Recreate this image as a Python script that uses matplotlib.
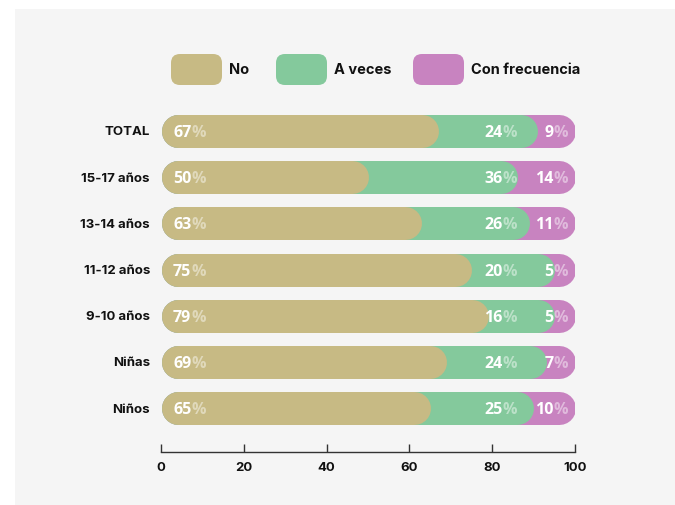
import matplotlib.pyplot as plt
from matplotlib.patches import Rectangle, FancyBboxPatch

# data
groups = ['TOTAL', '15-17 años', '13-14 años', '11-12 años', '9-10 años', 'Niñas', 'Niños']
no = [67, 50, 63, 75, 79, 69, 65]
a_veces = [24, 36, 26, 20, 16, 24, 25]
con_frec = [9, 14, 11, 5, 5, 7, 10]
series_names = ['No', 'A veces', 'Con frecuencia']
xticks = [0, 20, 40, 60, 80, 100]

c_no = '#c7ba84'
c_av = '#84c99c'
c_cf = '#c883c0'
colors = [c_no, c_av, c_cf]

W, H = 675, 505
fig = plt.figure(figsize=(W / 100, H / 100), dpi=100, facecolor='white')

# background + legend on a pixel axes
bg = fig.add_axes([0, 0, 1, 1], zorder=0)
bg.set_xlim(0, W)
bg.set_ylim(H, 0)
bg.axis('off')
bg.add_patch(Rectangle((15, 9), W - 15, H - 9, color='#f5f5f5', lw=0))

leg_x = [171, 276, 413]
for x, name, col in zip(leg_x, series_names, colors):
    bg.add_patch(FancyBboxPatch((x, 54), 51, 31, boxstyle='round,pad=0,rounding_size=9',
                                fc=col, ec='none'))
    bg.text(x + 58, 70.5, name, ha='left', va='center', fontsize=10.5,
            fontweight='bold', family='Inter', color='#111111')

# main chart axes
ax = fig.add_axes([161 / W, (H - 452) / H, 414 / W, 352 / H], zorder=1)
ax.patch.set_alpha(0)
ax.set_xlim(0, 100)
ax.set_ylim(6.95, -0.67)

px_per_unit = 414 / 100
bar_px = 33
r = bar_px / 2 / px_per_unit
lw = bar_px * 72 / 100

rows = list(range(len(groups)))
for i in rows:
    ends = [100, no[i] + a_veces[i], no[i]]
    for end, col in zip(ends, [c_cf, c_av, c_no]):
        ax.plot([r, end - r], [i, i], color=col, lw=lw, solid_capstyle='round', zorder=2)


def pct_label(x, y, val, ha):
    fs = 11.5
    y = y + 0.045  # nudge down so digits sit centred in the bar
    kw = dict(fontsize=fs, fontweight='bold', family='Open Sans', va='center', zorder=5)
    if ha == 'left':
        t = ax.text(x, y, str(val), ha='left', color='white', **kw)
        ax.annotate('%', xy=(1, 0.5), xycoords=t, ha='left', color=(1, 1, 1, 0.45), **kw)
    else:
        t = ax.text(x, y, '%', ha='right', color=(1, 1, 1, 0.45), **kw)
        ax.annotate(str(val), xy=(0, 0.5), xycoords=t, ha='right', color='white', **kw)


for i in rows:
    pct_label(2.9, i, no[i], 'left')
    pct_label(86.0, i, a_veces[i], 'right')
    pct_label(98.3, i, con_frec[i], 'right')

ax.set_yticks(rows)
ax.set_yticklabels(groups, fontsize=9.5, fontweight='bold', family='Inter', color='#111111')
ax.tick_params(axis='y', length=0, pad=8)

ax.set_xticks(xticks)
ax.set_xticklabels([str(t) for t in xticks], fontsize=9.5, fontweight='bold',
                   family='Inter', color='#111111')
ax.tick_params(axis='x', direction='in', length=6, width=1, color='#333333', pad=7)

for s in ['top', 'right', 'left']:
    ax.spines[s].set_visible(False)
ax.spines['bottom'].set_color('#333333')
ax.spines['bottom'].set_linewidth(1)

fig.savefig('out.png', dpi=100, facecolor='white')
